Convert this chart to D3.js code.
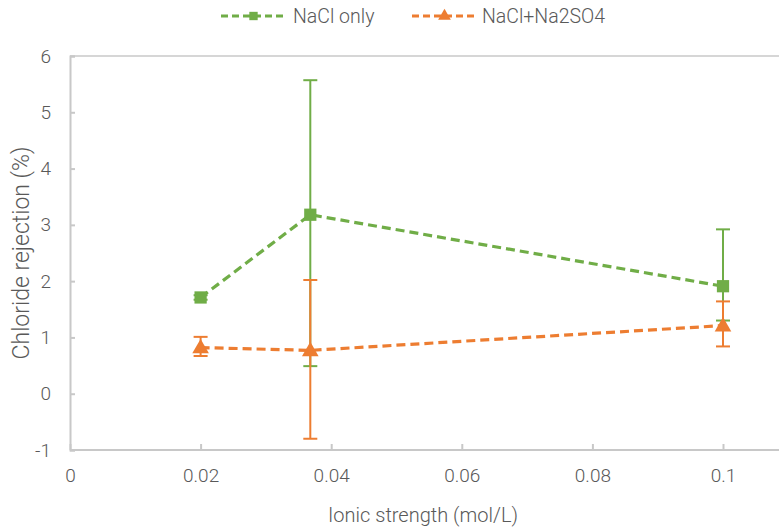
<!DOCTYPE html>
<html><head><meta charset="utf-8">
<script src="https://cdn.jsdelivr.net/npm/d3@7"></script>
<style>body{margin:0;background:#fff;} svg{display:block;} text{font-family:Roboto, "Liberation Sans", sans-serif; font-weight:300;}</style>
</head><body><svg id="c" width="779" height="532"></svg>
<script>
const seriesNames = ["NaCl only", "NaCl+Na2SO4"];
const xValues = [0.02, 0.0368, 0.1];
const naclOnly = [1.71, 3.18, 1.91];
const naclOnlyLow = [1.67, 0.49, 1.30];
const naclOnlyHigh = [1.75, 5.57, 2.92];
const mixed = [0.82, 0.77, 1.21];
const mixedLow = [0.67, -0.80, 0.84];
const mixedHigh = [1.01, 2.02, 1.64];
const xTicks = [0, 0.02, 0.04, 0.06, 0.08, 0.1];
const yTicks = [-1, 0, 1, 2, 3, 4, 5, 6];
const colors = ["#70AD47", "#ED7D31"];

const svg = d3.select("#c");
const x = d3.scaleLinear().domain([0, 0.12]).range([70, 70 + 653 * 1.2]);
const y = d3.scaleLinear().domain([-1, 6]).range([450, 56]);
const axisColor = "#c8c8c8", textColor = "#595959";

svg.append("line").attr("x1", x(0)).attr("x2", 779).attr("y1", y(6)).attr("y2", y(6))
  .attr("stroke", axisColor).attr("stroke-width", 1.5);

const xAxis = svg.append("g").attr("transform", `translate(0,${y(-1)})`)
  .call(d3.axisBottom(x).tickValues(xTicks).tickSize(-6).tickFormat(d => String(d)).tickPadding(22));
const yAxis = svg.append("g").attr("transform", `translate(${x(0)},0)`)
  .call(d3.axisLeft(y).tickValues(yTicks).tickSize(-5).tickFormat(d => String(d)).tickPadding(19));
[xAxis, yAxis].forEach(g => {
  g.select(".domain").attr("stroke", axisColor).attr("stroke-width", 2);
  g.selectAll(".tick line").attr("stroke", axisColor).attr("stroke-width", 2);
  g.selectAll("text").attr("fill", textColor).attr("font-size", 19).attr("font-family", "Roboto, sans-serif");
});
xAxis.select(".domain").attr("d", `M${x(0)},0H779`);
xAxis.selectAll(".tick text").attr("dy", "0.5em");

const data = [
  {vals: naclOnly, lo: naclOnlyLow, hi: naclOnlyHigh, color: colors[0], marker: d3.symbolSquare, size: 150},
  {vals: mixed, lo: mixedLow, hi: mixedHigh, color: colors[1], marker: d3.symbolTriangle, size: 120}
];
const line = d3.line().x(d => x(d[0])).y(d => y(d[1]));

data.forEach(s => {
  const pts = xValues.map((xv, i) => [xv, s.vals[i]]);
  svg.append("path").attr("d", line(pts)).attr("fill", "none").attr("stroke", s.color)
    .attr("stroke-width", 3.2).attr("stroke-dasharray", "9,5");
});
data.forEach(s => {
  const g = svg.append("g").attr("stroke", s.color).attr("stroke-width", 2);
  xValues.forEach((xv, i) => {
    g.append("line").attr("x1", x(xv)).attr("x2", x(xv)).attr("y1", y(s.lo[i])).attr("y2", y(s.hi[i]));
    [s.lo[i], s.hi[i]].forEach(v => g.append("line").attr("x1", x(xv) - 7).attr("x2", x(xv) + 7).attr("y1", y(v)).attr("y2", y(v)));
  });
});
data.forEach(s => {
  svg.append("g").selectAll("path").data(xValues).join("path")
    .attr("transform", (d, i) => `translate(${x(d)},${y(s.vals[i]) + (s.marker === d3.symbolTriangle ? 1 : 0)})`)
    .attr("d", d3.symbol().type(s.marker).size(s.size)).attr("fill", s.color);
});

const legendItems = [
  {name: seriesNames[0], x0: 221, color: colors[0], marker: d3.symbolSquare, size: 70, tx: 293},
  {name: seriesNames[1], x0: 412, color: colors[1], marker: d3.symbolTriangle, size: 70, tx: 482}
];
legendItems.forEach(l => {
  const ly = 16;
  svg.append("line").attr("x1", l.x0).attr("x2", l.x0 + 65).attr("y1", ly).attr("y2", ly)
    .attr("stroke", l.color).attr("stroke-width", 3.2).attr("stroke-dasharray", "7,4");
  svg.append("path").attr("transform", `translate(${l.x0 + 32.5},${ly})`)
    .attr("d", d3.symbol().type(l.marker).size(l.size)).attr("fill", l.color);
  svg.append("text").attr("x", l.tx).attr("y", ly).attr("dy", "0.35em").attr("fill", textColor)
    .attr("font-size", 19.5).text(l.name);
});

svg.append("text").attr("x", 423).attr("y", 515).attr("dy", "0.35em").attr("text-anchor", "middle")
  .attr("fill", textColor).attr("font-size", 20).text("Ionic strength (mol/L)");
svg.append("text").attr("transform", "translate(21,253) rotate(-90)").attr("dy", "0.35em")
  .attr("text-anchor", "middle").attr("fill", textColor).attr("font-size", 23).text("Chloride rejection  (%)");
</script></body></html>
